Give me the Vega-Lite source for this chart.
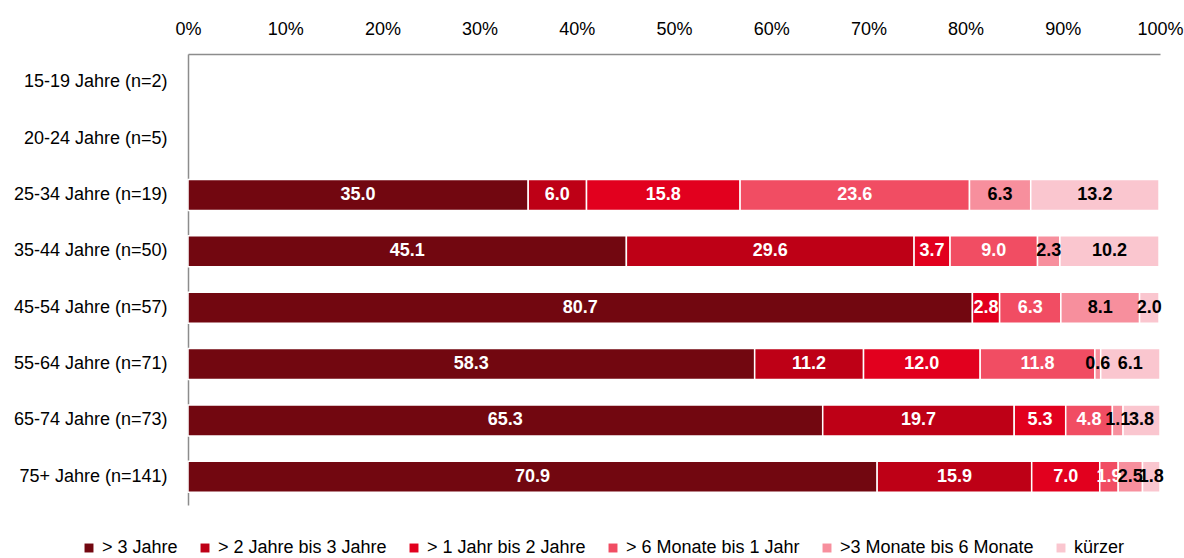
{
  "$schema": "https://vega.github.io/schema/vega-lite/v6.json",
  "width": 972,
  "height": 451,
  "autosize": {"type": "none"},
  "padding": {"left": 188, "top": 54, "right": 24, "bottom": 53},
  "background": "white",
  "config": {"view": {"stroke": null}, "font": "Liberation Sans"},
  "data": {"values": [
    {"g": "25-34 Jahre (n=19)", "s": "> 3 Jahre", "k": 1, "v": 35.0},
    {"g": "25-34 Jahre (n=19)", "s": "> 2 Jahre bis 3 Jahre", "k": 2, "v": 6.0},
    {"g": "25-34 Jahre (n=19)", "s": "> 1 Jahr bis 2 Jahre", "k": 3, "v": 15.8},
    {"g": "25-34 Jahre (n=19)", "s": "> 6 Monate bis 1 Jahr", "k": 4, "v": 23.6},
    {"g": "25-34 Jahre (n=19)", "s": ">3 Monate bis 6 Monate", "k": 5, "v": 6.3},
    {"g": "25-34 Jahre (n=19)", "s": "kürzer", "k": 6, "v": 13.2},
    {"g": "35-44 Jahre (n=50)", "s": "> 3 Jahre", "k": 1, "v": 45.1},
    {"g": "35-44 Jahre (n=50)", "s": "> 2 Jahre bis 3 Jahre", "k": 2, "v": 29.6},
    {"g": "35-44 Jahre (n=50)", "s": "> 1 Jahr bis 2 Jahre", "k": 3, "v": 3.7},
    {"g": "35-44 Jahre (n=50)", "s": "> 6 Monate bis 1 Jahr", "k": 4, "v": 9.0},
    {"g": "35-44 Jahre (n=50)", "s": ">3 Monate bis 6 Monate", "k": 5, "v": 2.3},
    {"g": "35-44 Jahre (n=50)", "s": "kürzer", "k": 6, "v": 10.2},
    {"g": "45-54 Jahre (n=57)", "s": "> 3 Jahre", "k": 1, "v": 80.7},
    {"g": "45-54 Jahre (n=57)", "s": "> 1 Jahr bis 2 Jahre", "k": 3, "v": 2.8},
    {"g": "45-54 Jahre (n=57)", "s": "> 6 Monate bis 1 Jahr", "k": 4, "v": 6.3},
    {"g": "45-54 Jahre (n=57)", "s": ">3 Monate bis 6 Monate", "k": 5, "v": 8.1},
    {"g": "45-54 Jahre (n=57)", "s": "kürzer", "k": 6, "v": 2.0},
    {"g": "55-64 Jahre (n=71)", "s": "> 3 Jahre", "k": 1, "v": 58.3},
    {"g": "55-64 Jahre (n=71)", "s": "> 2 Jahre bis 3 Jahre", "k": 2, "v": 11.2},
    {"g": "55-64 Jahre (n=71)", "s": "> 1 Jahr bis 2 Jahre", "k": 3, "v": 12.0},
    {"g": "55-64 Jahre (n=71)", "s": "> 6 Monate bis 1 Jahr", "k": 4, "v": 11.8},
    {"g": "55-64 Jahre (n=71)", "s": ">3 Monate bis 6 Monate", "k": 5, "v": 0.6},
    {"g": "55-64 Jahre (n=71)", "s": "kürzer", "k": 6, "v": 6.1},
    {"g": "65-74 Jahre (n=73)", "s": "> 3 Jahre", "k": 1, "v": 65.3},
    {"g": "65-74 Jahre (n=73)", "s": "> 2 Jahre bis 3 Jahre", "k": 2, "v": 19.7},
    {"g": "65-74 Jahre (n=73)", "s": "> 1 Jahr bis 2 Jahre", "k": 3, "v": 5.3},
    {"g": "65-74 Jahre (n=73)", "s": "> 6 Monate bis 1 Jahr", "k": 4, "v": 4.8},
    {"g": "65-74 Jahre (n=73)", "s": ">3 Monate bis 6 Monate", "k": 5, "v": 1.1},
    {"g": "65-74 Jahre (n=73)", "s": "kürzer", "k": 6, "v": 3.8},
    {"g": "75+ Jahre (n=141)", "s": "> 3 Jahre", "k": 1, "v": 70.9},
    {"g": "75+ Jahre (n=141)", "s": "> 2 Jahre bis 3 Jahre", "k": 2, "v": 15.9},
    {"g": "75+ Jahre (n=141)", "s": "> 1 Jahr bis 2 Jahre", "k": 3, "v": 7.0},
    {"g": "75+ Jahre (n=141)", "s": "> 6 Monate bis 1 Jahr", "k": 4, "v": 1.9},
    {"g": "75+ Jahre (n=141)", "s": ">3 Monate bis 6 Monate", "k": 5, "v": 2.5},
    {"g": "75+ Jahre (n=141)", "s": "kürzer", "k": 6, "v": 1.8}
  ]},
  "transform": [
    {"stack": "v", "groupby": ["g"], "sort": [{"field": "k", "order": "ascending"}], "as": ["v0", "v1"]},
    {"calculate": "(datum.v0 + datum.v1) / 2", "as": "mid"}
  ],
  "encoding": {
    "y": {
      "field": "g", "type": "nominal",
      "scale": {"domain": ["15-19 Jahre (n=2)", "20-24 Jahre (n=5)", "25-34 Jahre (n=19)", "35-44 Jahre (n=50)", "45-54 Jahre (n=57)", "55-64 Jahre (n=71)", "65-74 Jahre (n=73)", "75+ Jahre (n=141)"], "paddingInner": 0.45, "paddingOuter": 0.225},
      "axis": {"title": null, "ticks": false, "domainColor": "#8c8c8c", "domainWidth": 1.5, "labelFontSize": 18, "labelColor": "#000", "labelPadding": 21, "labelFont": "Liberation Sans", "labelLimit": 0}
    }
  },
  "layer": [
    {
      "mark": {"type": "bar", "stroke": "white", "strokeWidth": 1.5},
      "encoding": {
        "x": {"field": "v0", "type": "quantitative", "scale": {"domain": [0, 100], "nice": false},
          "axis": {"orient": "top", "title": null, "values": [0, 10, 20, 30, 40, 50, 60, 70, 80, 90, 100], "labelExpr": "datum.value + '%'", "ticks": false, "grid": false, "domainColor": "#8c8c8c", "domainWidth": 1.5, "labelFontSize": 18, "labelColor": "#000", "labelPadding": 16, "labelFlush": false, "labelOverlap": false, "labelBound": false, "labelFont": "Liberation Sans"}},
        "x2": {"field": "v1"},
        "color": {
          "field": "s", "type": "nominal",
          "scale": {"domain": ["> 3 Jahre", "> 2 Jahre bis 3 Jahre", "> 1 Jahr bis 2 Jahre", "> 6 Monate bis 1 Jahr", ">3 Monate bis 6 Monate", "kürzer"],
                    "range": ["#720710", "#BE0016", "#E2001E", "#F14D63", "#F78F9D", "#FAC6CF"]},
          "legend": {"orient": "none", "legendX": -108, "legendY": 485, "direction": "horizontal", "columns": 6, "title": null, "symbolType": "square", "symbolSize": 80, "symbolStrokeWidth": 0, "labelFontSize": 18, "labelColor": "#000", "labelFont": "Liberation Sans", "labelLimit": 0, "columnPadding": 18, "labelOffset": 4}
        }
      }
    },
    {
      "mark": {"type": "text", "fontWeight": "bold", "fontSize": 18, "font": "Liberation Sans", "baseline": "middle"},
      "encoding": {
        "x": {"field": "mid", "type": "quantitative"},
        "text": {"field": "v", "format": ".1f"},
        "color": {"condition": {"test": "datum.k <= 4", "value": "white"}, "value": "black"}
      }
    }
  ]
}
